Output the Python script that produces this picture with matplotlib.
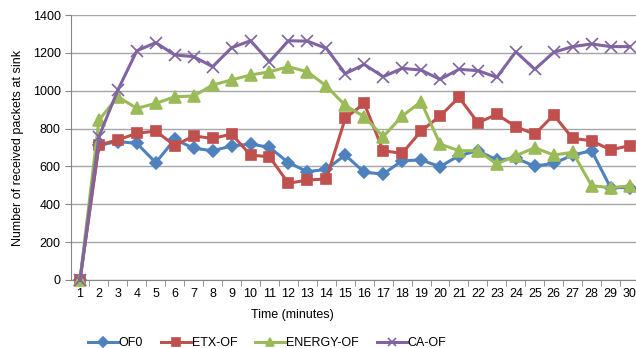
import matplotlib
matplotlib.use("Agg")
from matplotlib import pyplot as plt
import numpy as np

plt.rcParams['font.family'] = ['Liberation Sans', 'DejaVu Sans']

minutes = list(range(1, 31))
of0 = [0, 713, 731, 722, 620, 743, 696, 683, 708, 718, 701, 620, 572, 585, 660,
       569, 560, 630, 634, 599, 657, 683, 634, 643, 602, 616, 660, 683, 488, 488]
etx_of = [0, 713, 740, 775, 787, 710, 761, 748, 771, 660, 651, 511, 528, 534, 855,
          933, 683, 669, 787, 866, 965, 831, 875, 810, 770, 872, 748, 736, 687, 710]
energy_of = [0, 845, 968, 907, 933, 968, 972, 1030, 1057, 1083, 1100, 1127, 1100, 1025, 922,
             863, 757, 866, 942, 718, 683, 683, 613, 657, 699, 660, 675, 498, 488, 497]
ca_of = [0, 757, 1004, 1211, 1254, 1189, 1180, 1127, 1227, 1264, 1153, 1264, 1262, 1224, 1090,
         1139, 1074, 1118, 1109, 1060, 1113, 1106, 1071, 1206, 1113, 1203, 1233, 1247, 1233, 1233]

series = [
    ("OF0", of0, "#4F81BD", "D", 6),
    ("ETX-OF", etx_of, "#C0504D", "s", 7),
    ("ENERGY-OF", energy_of, "#9BBB59", "^", 8),
    ("CA-OF", ca_of, "#8064A2", "x", 8),
]

fig = plt.figure(figsize=(6.36, 3.48), dpi=100)
ax = fig.add_axes([70.5 / 636, 68 / 348, 568.5 / 636, 265 / 348])

for name, vals, col, mk, ms in series:
    ax.plot(minutes, vals, color=col, lw=2.2, marker=mk, ms=ms,
            mew=1.2, mec=col, mfc=col, label=name, clip_on=False, zorder=3)

ax.set_xlim(0.5, 30.5)
ax.set_ylim(0, 1400)
ax.set_yticks(np.arange(0, 1401, 200))
ax.set_xticks(minutes)
ax.set_xticks(np.arange(1.5, 30.5, 1), minor=True)
ax.tick_params(axis='x', which='major', length=0, labelsize=9, pad=6)
ax.tick_params(axis='x', which='minor', length=4, color='#868686', direction='out')
ax.tick_params(axis='y', length=4, color='#868686', labelsize=9, pad=3)
ax.grid(axis='y', color='#A6A6A6', lw=1)
ax.set_axisbelow(True)
for s in ['top', 'right']:
    ax.spines[s].set_visible(False)
for s in ['left', 'bottom']:
    ax.spines[s].set_color('#868686')

ax.set_xlabel("Time (minutes)", fontsize=9, labelpad=6, x=0.39)
ax.set_ylabel("Number of received packets at sink", fontsize=9, labelpad=6)

fig.legend(loc='lower center', bbox_to_anchor=(0.42, -0.035), ncol=4, frameon=False,
           fontsize=9, handlelength=2.4, columnspacing=1.4, handletextpad=0.1,
           markerscale=0.8)

fig.savefig("out.png", dpi=100)
